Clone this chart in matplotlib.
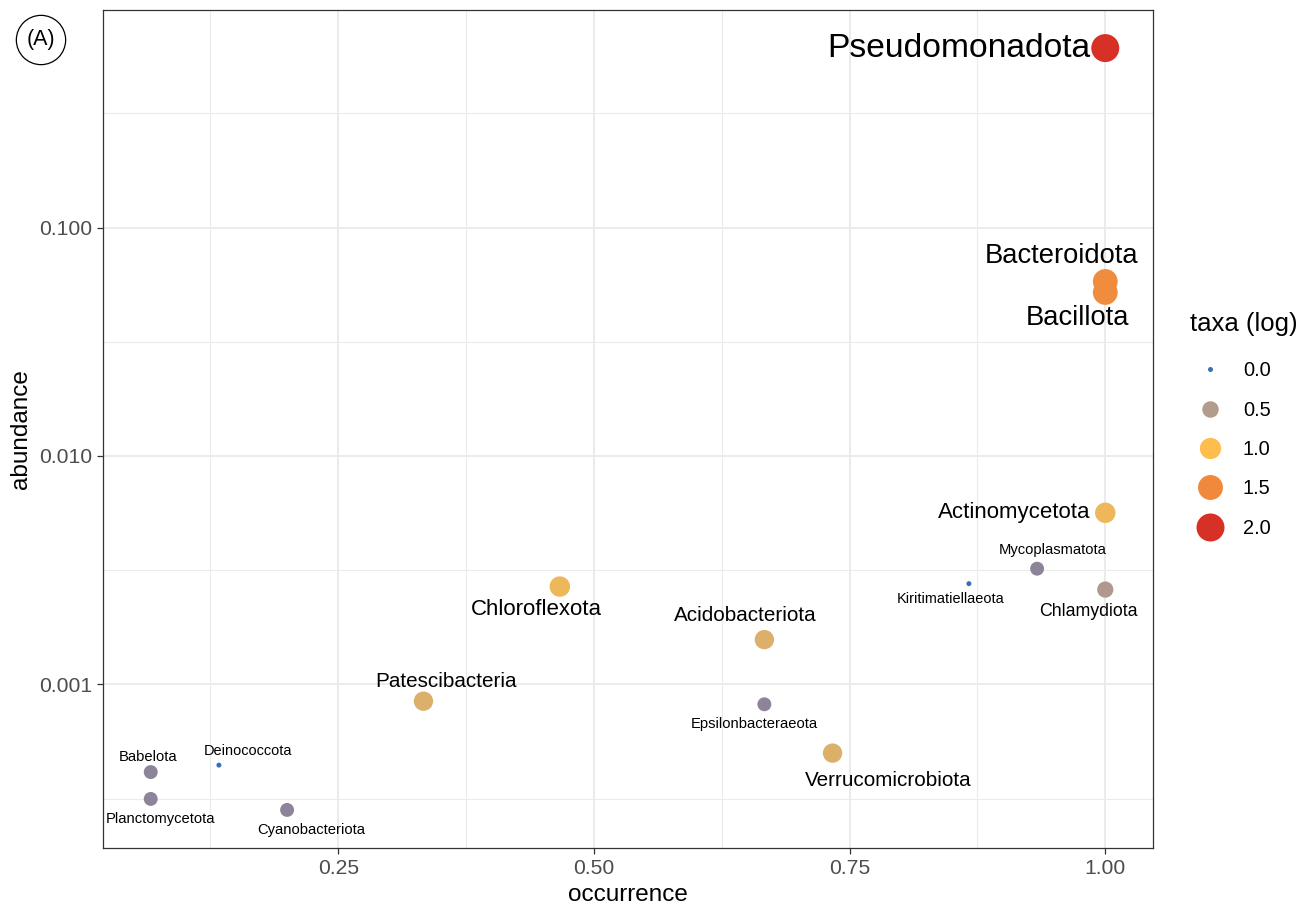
import numpy as np
import matplotlib
matplotlib.use("Agg")
import matplotlib.pyplot as plt
from matplotlib.colors import LinearSegmentedColormap
from matplotlib.lines import Line2D
from matplotlib.ticker import FixedLocator, NullFormatter

plt.rcParams['font.family'] = ['Liberation Sans', 'DejaVu Sans']

# phylum summary: occurrence (fraction of samples), mean relative abundance, log10 number of taxa
phylum = ['Pseudomonadota', 'Bacteroidota', 'Bacillota', 'Actinomycetota',
          'Mycoplasmatota', 'Kiritimatiellaeota', 'Chlamydiota', 'Chloroflexota',
          'Acidobacteriota', 'Patescibacteria', 'Epsilonbacteraeota',
          'Verrucomicrobiota', 'Babelota', 'Deinococcota', 'Planctomycetota',
          'Cyanobacteriota']
occurrence = [15/15, 15/15, 15/15, 15/15, 14/15, 13/15, 15/15, 7/15,
              10/15, 5/15, 10/15, 11/15, 1/15, 2/15, 1/15, 3/15]
abundance = [0.611, 0.0581, 0.0520, 0.00564, 0.00321, 0.00276, 0.00260, 0.00268,
             0.00157, 0.000844, 0.000818, 0.000500, 0.000413, 0.000443, 0.000315,
             0.000282]
taxa_log = [2.0, 1.48, 1.48, 0.90, 0.301, 0.0, 0.477, 0.90,
            0.778, 0.778, 0.301, 0.778, 0.301, 0.0, 0.301, 0.301]
legend_breaks = [0.0, 0.5, 1.0, 1.5, 2.0]

# label offsets from each point in pixels (dx, dy with y upward), repel-style
label_offsets = [(-15, 0), (-44, 25), (-28, -26), (-15, 0),
                 (16, 19), (-18, -15), (-17, -22), (-23, -23),
                 (-19, 24), (23, 20), (-10, -20), (56, -27),
                 (-3, 15), (29, 14), (10, -20), (24, -20)]
label_ha = ['right', 'center', 'center', 'right'] + ['center'] * 12

cmap = LinearSegmentedColormap.from_list('taxa', [
    (0.0, '#3D6DB7'), (0.15, '#8E8499'), (0.25, '#B39C8C'),
    (0.5, '#FDBE4E'), (0.75, '#F08A3C'), (1.0, '#D63027')])

PX = 0.72  # points per pixel at dpi 100


def point_diam(t):
    # area-proportional size scale, 5 px to 28 px
    return (5 + 23 * np.sqrt(np.asarray(t) / 2.0)) * PX


def label_size(t):
    return np.interp(t, [0, 0.301, 0.477, 0.778, 0.9, 1.5, 2.0],
                     [14.5, 14.7, 17.8, 20.6, 22.3, 27.5, 33.7]) * PX


fig = plt.figure(figsize=(13.04, 9.09), dpi=100)
ax = fig.add_axes([103/1304, 61/909, 1050/1304, 838/909])

ax.set_yscale('log')
x = np.array(occurrence)
y = np.array(abundance)
t = np.array(taxa_log)

ax.scatter(x, y, s=point_diam(t) ** 2, c=t, cmap=cmap, vmin=0, vmax=2,
           linewidths=0, zorder=3)

for name, xi, yi, ti, (dx, dy), ha in zip(phylum, x, y, t, label_offsets, label_ha):
    ax.annotate(name, (xi, yi), xytext=(dx * PX, dy * PX), textcoords='offset points',
                ha=ha, va='center', fontsize=label_size(ti), color='black', zorder=4)

# limits with 5% padding (log space for y)
xr = x.max() - x.min()
ax.set_xlim(x.min() - 0.05 * xr, x.max() + 0.05 * xr)
ly = np.log10(y)
lr = ly.max() - ly.min()
ax.set_ylim(10 ** (ly.min() - 0.05 * lr), 10 ** (ly.max() + 0.05 * lr))

ax.set_xticks([0.25, 0.5, 0.75, 1.0])
ax.set_xticklabels(['0.25', '0.50', '0.75', '1.00'])
ax.xaxis.set_minor_locator(FixedLocator([0.125, 0.375, 0.625, 0.875]))
ax.set_yticks([0.001, 0.01, 0.1])
ax.set_yticklabels(['0.001', '0.010', '0.100'])
ax.yaxis.set_minor_locator(FixedLocator([10 ** -3.5, 10 ** -2.5, 10 ** -1.5, 10 ** -0.5]))
ax.yaxis.set_minor_formatter(NullFormatter())

ax.grid(which='major', color='#EBEBEB', linewidth=1.4, zorder=0)
ax.grid(which='minor', color='#EBEBEB', linewidth=0.8, zorder=0)
ax.set_axisbelow(True)
ax.tick_params(which='major', length=4, width=0.9, color='#333333',
               labelsize=15.2, labelcolor='#4D4D4D', pad=4)
ax.tick_params(which='minor', length=0)
for sp in ax.spines.values():
    sp.set_color('#333333')
    sp.set_linewidth(0.9)

ax.set_xlabel('occurrence', fontsize=17.5, labelpad=4)
ax.set_ylabel('abundance', fontsize=17.5, labelpad=5)

# size/colour legend
handles = [Line2D([], [], linestyle='none', marker='o', markersize=point_diam(b),
                  markerfacecolor=cmap(b / 2), markeredgewidth=0)
           for b in legend_breaks]
leg = fig.legend(handles, [f'{b:.1f}' for b in legend_breaks], title='taxa (log)',
                 loc='center left', bbox_to_anchor=(1182/1304, 0.5325), frameon=False,
                 fontsize=14.4, title_fontsize=18.5, labelspacing=1.02,
                 handletextpad=0.65, borderaxespad=0)
leg._legend_box.align = 'left'
leg._legend_box.sep = 18

# panel tag
fig.text(41/1304, 1 - 40/909, '(A)', fontsize=15.5, ha='center', va='center',
         bbox=dict(boxstyle='circle,pad=0.48', fc='white', ec='black', lw=0.9))

fig.savefig('out.png', dpi=100)
